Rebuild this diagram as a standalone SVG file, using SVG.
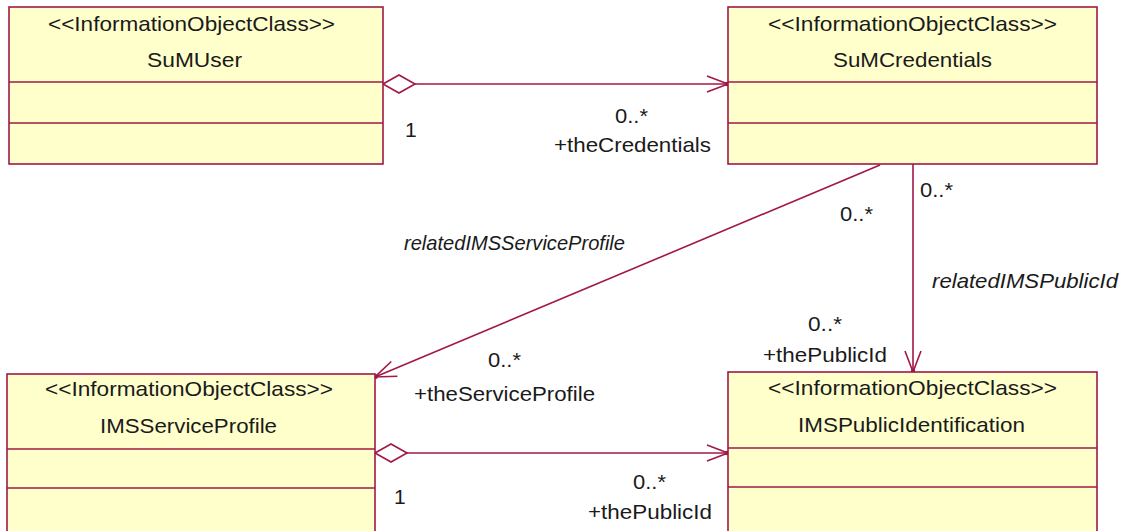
<svg xmlns="http://www.w3.org/2000/svg" width="1131" height="531" viewBox="0 0 1131 531">
<style>
.box{fill:#FFFFCC;stroke:#A01848;stroke-width:1.6}
.div{stroke:#A01848;stroke-width:1.6}
.t{font-family:"Liberation Sans",Arial,sans-serif;font-size:21px;fill:#1a1a1a}
.i{font-style:italic}
.ln{fill:none;stroke:#A01848;stroke-width:1.6}
</style>
<defs>
<marker id="arr" markerUnits="userSpaceOnUse" viewBox="-24 -12 28 24" markerWidth="28" markerHeight="24" refX="0" refY="0" orient="auto">
<path d="M-21,-8 L0,0 L-21,8" fill="none" stroke="#A01848" stroke-width="1.6"/>
<circle cx="-1" cy="0" r="2.2" fill="#A01848"/>
</marker>
<marker id="dia" markerUnits="userSpaceOnUse" viewBox="-2 -12 36 24" markerWidth="36" markerHeight="24" refX="0" refY="0" orient="auto">
<path d="M0,0 L16,-9 L32,0 L16,9 Z" fill="#FFFFFF" stroke="#A01848" stroke-width="1.6"/>
</marker>
</defs>
<rect width="1131" height="531" fill="#FFFFFF"/>
<g id="connectors">
<path class="ln" d="M383,84 L728,84" marker-start="url(#dia)" marker-end="url(#arr)"/>
<path class="ln" d="M375,453 L728,453" marker-start="url(#dia)" marker-end="url(#arr)"/>
<path class="ln" d="M880,165 L375,377" marker-end="url(#arr)"/>
<path class="ln" d="M913,164 L913,372" marker-end="url(#arr)"/>
<text class="t" x="405" y="137">1</text>
<text class="t" x="615" y="123" textLength="33" lengthAdjust="spacingAndGlyphs">0..*</text>
<text class="t" x="554" y="152" textLength="157" lengthAdjust="spacingAndGlyphs">+theCredentials</text>
<text class="t" x="394" y="504">1</text>
<text class="t" x="633" y="489" textLength="33" lengthAdjust="spacingAndGlyphs">0..*</text>
<text class="t" x="588" y="519" textLength="124" lengthAdjust="spacingAndGlyphs">+thePublicId</text>
<text class="t i" x="404" y="250" textLength="221" lengthAdjust="spacingAndGlyphs">relatedIMSServiceProfile</text>
<text class="t" x="840" y="221" textLength="33" lengthAdjust="spacingAndGlyphs">0..*</text>
<text class="t" x="488" y="367" textLength="33" lengthAdjust="spacingAndGlyphs">0..*</text>
<text class="t" x="414" y="401" textLength="181" lengthAdjust="spacingAndGlyphs">+theServiceProfile</text>
<text class="t" x="920" y="197" textLength="33" lengthAdjust="spacingAndGlyphs">0..*</text>
<text class="t i" x="932" y="288" textLength="186" lengthAdjust="spacingAndGlyphs">relatedIMSPublicId</text>
<text class="t" x="808" y="331" textLength="34" lengthAdjust="spacingAndGlyphs">0..*</text>
<text class="t" x="763" y="362" textLength="124" lengthAdjust="spacingAndGlyphs">+thePublicId</text>
</g>
<g id="SuMUser">
<rect class="box" x="9" y="7" width="374" height="157"/>
<line class="div" x1="9" y1="82" x2="383" y2="82"/>
<line class="div" x1="9" y1="123" x2="383" y2="123"/>
<text class="t" x="48" y="31" textLength="287" lengthAdjust="spacingAndGlyphs">&lt;&lt;InformationObjectClass&gt;&gt;</text>
<text class="t" x="147" y="67" textLength="95" lengthAdjust="spacingAndGlyphs">SuMUser</text>
</g>
<g id="SuMCredentials">
<rect class="box" x="728" y="7" width="369" height="157"/>
<line class="div" x1="728" y1="82" x2="1097" y2="82"/>
<line class="div" x1="728" y1="123" x2="1097" y2="123"/>
<text class="t" x="768" y="31" textLength="289" lengthAdjust="spacingAndGlyphs">&lt;&lt;InformationObjectClass&gt;&gt;</text>
<text class="t" x="833" y="67" textLength="159" lengthAdjust="spacingAndGlyphs">SuMCredentials</text>
</g>
<g id="IMSServiceProfile">
<rect class="box" x="7" y="374" width="368" height="160"/>
<line class="div" x1="7" y1="449" x2="375" y2="449"/>
<line class="div" x1="7" y1="488" x2="375" y2="488"/>
<text class="t" x="45" y="396" textLength="288" lengthAdjust="spacingAndGlyphs">&lt;&lt;InformationObjectClass&gt;&gt;</text>
<text class="t" x="100" y="433" textLength="177" lengthAdjust="spacingAndGlyphs">IMSServiceProfile</text>
</g>
<g id="IMSPublicIdentification">
<rect class="box" x="728" y="372" width="369" height="162"/>
<line class="div" x1="728" y1="448" x2="1097" y2="448"/>
<line class="div" x1="728" y1="487" x2="1097" y2="487"/>
<text class="t" x="768" y="395" textLength="289" lengthAdjust="spacingAndGlyphs">&lt;&lt;InformationObjectClass&gt;&gt;</text>
<text class="t" x="798" y="432" textLength="227" lengthAdjust="spacingAndGlyphs">IMSPublicIdentification</text>
</g>
</svg>
